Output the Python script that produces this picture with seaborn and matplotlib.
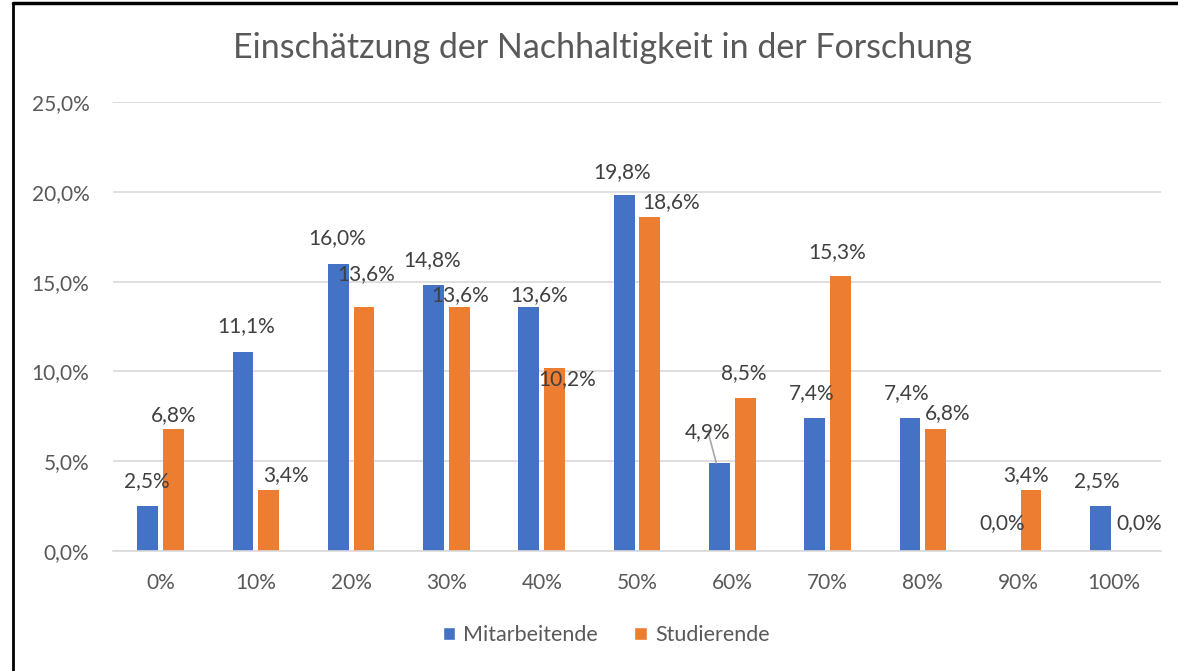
import pandas as pd
import matplotlib.pyplot as plt
import seaborn as sns
from matplotlib.lines import Line2D
from matplotlib.patches import Patch

# Chart data
categories = ['0%', '10%', '20%', '30%', '40%', '50%', '60%', '70%', '80%', '90%', '100%']
mitarbeitende = [2.5, 11.1, 16.0, 14.8, 13.6, 19.8, 4.9, 7.4, 7.4, 0.0, 2.5]
studierende = [6.8, 3.4, 13.6, 13.6, 10.2, 18.6, 8.5, 15.3, 6.8, 3.4, 0.0]
series_names = ['Mitarbeitende', 'Studierende']
y_ticks = [0, 5, 10, 15, 20, 25]

# label nudges (x px, y px above bar top) to mimic Excel's label placement
nudge_blue = [(-1, 25), (3, 26), (-1, 26), (-2, 25), (10, 12), (-2, 23),
              (-11, 31), (-3, 25), (-3, 25), (-3, 28), (-4, 25)]
nudge_orange = [(0, 14), (17, 15), (2, 33), (1, 12), (13, -11), (21, 15),
                (-1, 25), (-3, 24), (12, 16), (-5, 15), (13, 28)]

df = pd.DataFrame({
    'Kategorie': categories * 2,
    'Wert': mitarbeitende + studierende,
    'Gruppe': [series_names[0]] * len(categories) + [series_names[1]] * len(categories),
})

blue = '#4472C4'
orange = '#ED7D31'
label_col = '#404040'
tick_col = '#595959'

sns.set_style('white')
plt.rcParams['font.family'] = ['Lato', 'DejaVu Sans']

fig = plt.figure(figsize=(11.78, 6.71), dpi=100)
ax = fig.add_axes([113 / 1178, 1 - 551 / 671, (1161 - 113) / 1178, (551 - 102) / 671])

sns.barplot(data=df, x='Kategorie', y='Wert', hue='Gruppe', order=categories,
            palette=[blue, orange], width=0.54, gap=0.19, ax=ax, legend=False,
            saturation=1, edgecolor='none')

ax.set_ylim(0, 25)
ax.set_xlim(-0.5, len(categories) - 0.5)
ax.set_yticks(y_ticks)
ax.set_yticklabels([f'{v:.1f}%'.replace('.', ',') for v in y_ticks])
ax.set_xlabel('')
ax.set_ylabel('')
ax.tick_params(axis='both', length=0, labelsize=15, labelcolor=tick_col)
ax.tick_params(axis='y', pad=17)
ax.tick_params(axis='x', pad=16)
ax.grid(axis='y', color='#D9D9D9', linewidth=1.2)
ax.set_axisbelow(True)
for s in ['top', 'right', 'left']:
    ax.spines[s].set_visible(False)
ax.spines['bottom'].set_color('#D9D9D9')
ax.spines['bottom'].set_linewidth(1.2)

# data labels
px = 0.72
for container, vals, nudges in zip(ax.containers, [mitarbeitende, studierende],
                                   [nudge_blue, nudge_orange]):
    for bar, v, (dx, dy) in zip(container, vals, nudges):
        xc = bar.get_x() + bar.get_width() / 2
        arrow = None
        if dy > 30 and nudges is nudge_blue:
            # leader line like Excel draws for a moved label
            arrow = dict(arrowstyle='-', color='#A6A6A6', lw=1.2,
                         shrinkA=1, shrinkB=0, patchA=None)
            shift = bar.get_width() * 0.15
            ax.annotate(f'{v:.1f}%'.replace('.', ','), xy=(xc - shift, v),
                        xytext=(dx * px + 2, dy * px), textcoords='offset points',
                        ha='center', va='center', fontsize=15, color=label_col,
                        arrowprops=arrow)
            continue
        ax.annotate(f'{v:.1f}%'.replace('.', ','), xy=(xc, v),
                    xytext=(dx * px, dy * px), textcoords='offset points',
                    ha='center', va='center', fontsize=15, color=label_col)

fig.text(602 / 1178, 1 - 48 / 671, 'Einschätzung der Nachhaltigkeit in der Forschung',
         ha='center', va='center', fontsize=24.5, color=tick_col)

handles = [Patch(facecolor=blue, label=series_names[0]),
           Patch(facecolor=orange, label=series_names[1])]
fig.legend(handles=handles, loc='center', bbox_to_anchor=(606 / 1178, 1 - 635 / 671),
           ncol=2, frameon=False, fontsize=15.5, labelcolor=tick_col,
           handlelength=0.6, handleheight=0.6, handletextpad=0.35, columnspacing=1.7)

# outer chart border (top and left edges visible)
fig.add_artist(Line2D([13 / 1178, 13 / 1178], [0, 1 - 3 / 671], transform=fig.transFigure,
                      color='black', lw=2))
fig.add_artist(Line2D([13 / 1178, 1], [1 - 3 / 671, 1 - 3 / 671], transform=fig.transFigure,
                      color='black', lw=2.5))

fig.savefig('out.png', dpi=100)
